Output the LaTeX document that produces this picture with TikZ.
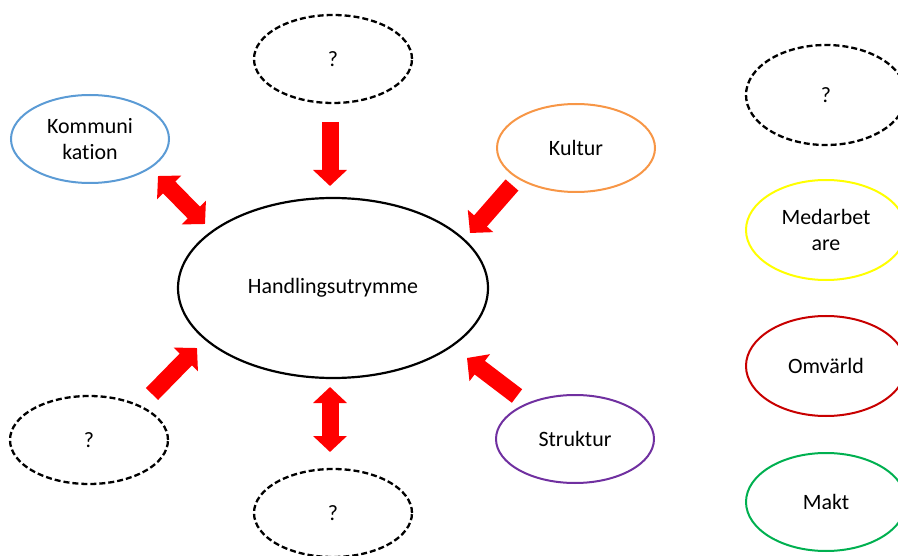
\documentclass[tikz,border=0pt]{standalone}
\usepackage{fontspec}
\setmainfont{Carlito}[Ligatures={NoCommon}]
\usetikzlibrary{shapes.geometric,arrows.meta}

\definecolor{kblue}{HTML}{5B9BD5}
\definecolor{korange}{HTML}{F79646}
\definecolor{kyellow}{HTML}{FFFF00}
\definecolor{kred}{HTML}{C80000}
\definecolor{kgreen}{HTML}{00B050}
\definecolor{kpurple}{HTML}{7030A0}
\definecolor{karrow}{HTML}{FF0000}

\tikzset{
  oval/.style={ellipse, draw, line width=2bp, inner sep=0pt, align=center,
    font=\fontsize{22}{27}\selectfont, text=black,
    minimum width=158bp, minimum height=88bp},
  unknown/.style={oval, draw=black, line width=2.3bp, dash pattern=on 6bp off 3bp},
  sidebox/.style={oval, minimum width=160bp, minimum height=100bp},
  bigarrow/.style={draw=karrow, line width=17bp,
    -{Triangle[length=16bp,width=33bp]}},
  bigdouble/.style={draw=karrow, line width=17bp,
    {Triangle[length=16bp,width=33bp]}-{Triangle[length=16bp,width=33bp]}},
}

\begin{document}
\begin{tikzpicture}[x=1bp,y=-1bp]
  \useasboundingbox (0,0) rectangle (898,556);
  \clip (0,0) rectangle (898,556);

  % central ellipse
  \node[oval, draw=black, line width=2.2bp, minimum width=310bp, minimum height=180bp]
    (main) at (333,288) {Handlingsutrymme};

  % surrounding factors
  \node[unknown] (top) at (333,59) {?};
  \node[oval, draw=kblue] (komm) at (90,139) {Kommuni\\kation};
  \node[oval, draw=korange] (kultur) at (576,148) {Kultur};
  \node[unknown] (botleft) at (89,440) {?};
  \node[unknown] (bottom) at (333,513) {?};
  \node[oval, draw=kpurple] (struktur) at (575,439) {Struktur};

  % legend column on the right
  \node[sidebox, unknown, minimum width=160bp, minimum height=100bp] (r1) at (826,95) {?};
  \node[sidebox, draw=kyellow] (r2) at (826,230) {Medarbet\\are};
  \node[sidebox, draw=kred] (r3) at (826,366) {Omvärld};
  \node[sidebox, draw=kgreen, minimum height=98bp] (r4) at (826,502) {Makt};

  % arrow end points
  \coordinate (topA) at (330,122);   \coordinate (topB) at (330,186);
  \coordinate (kommA) at (158,176);  \coordinate (kommB) at (205,224);
  \coordinate (kultA) at (512,185);  \coordinate (kultB) at (470,233);
  \coordinate (blA) at (152,394);    \coordinate (blB) at (197,348);
  \coordinate (botA) at (330,452);   \coordinate (botB) at (330,387);
  \coordinate (strA) at (517,396);   \coordinate (strB) at (467,358);

  % arrows towards the centre
  \draw[bigarrow] (topA) -- (topB);
  \draw[bigdouble] (kommA) -- (kommB);
  \draw[bigarrow] (kultA) -- (kultB);
  \draw[bigarrow] (blA) -- (blB);
  \draw[bigdouble] (botA) -- (botB);
  \draw[bigarrow] (strA) -- (strB);
\end{tikzpicture}
\end{document}
